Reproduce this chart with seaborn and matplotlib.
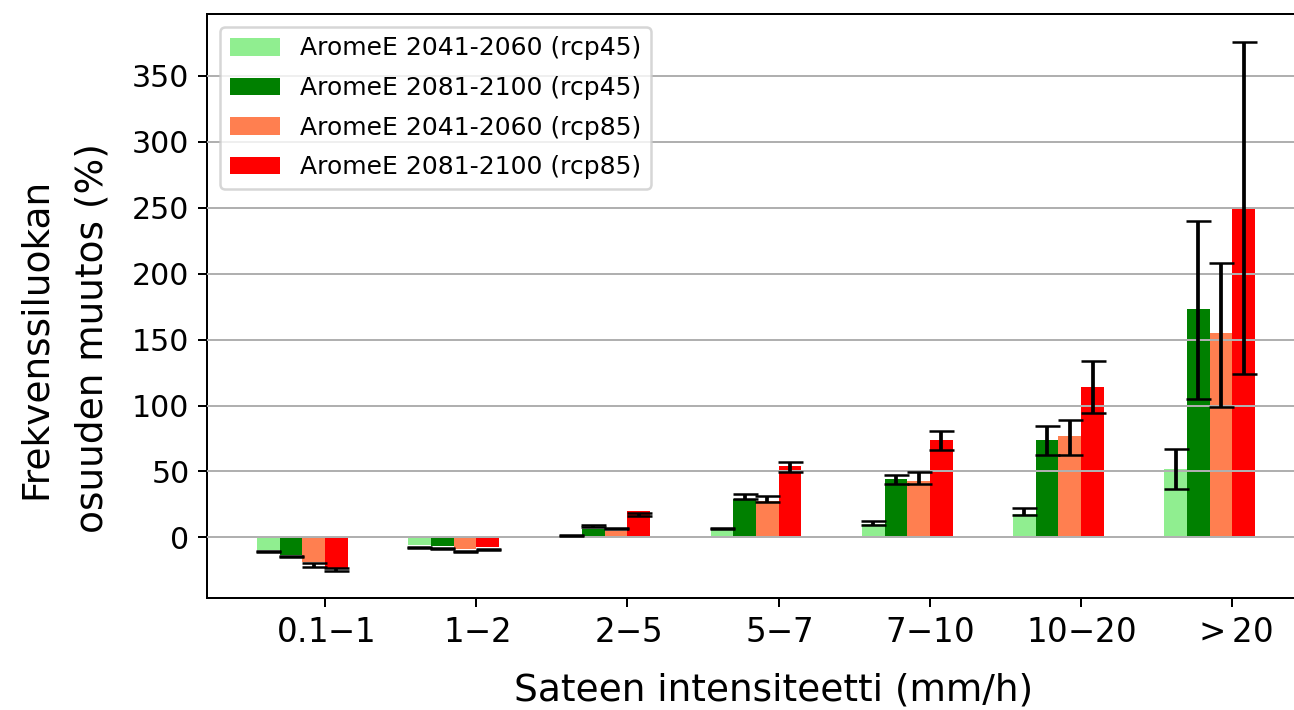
import numpy as np
import pandas as pd
import matplotlib
matplotlib.use("Agg")
import matplotlib.pyplot as plt
import seaborn as sns

# categories (minus / ">" set through mathtext like the original)
categories = ['0.1-1', '1-2', '2-5', '5-7', '7-10', '10-20', '>20']
tick_labels = ['0.1$-$1', '1$-$2', '2$-$5', '5$-$7', '7$-$10', '10$-$20', '$>$20']

series = ['AromeE 2041-2060 (rcp45)', 'AromeE 2081-2100 (rcp45)',
          'AromeE 2041-2060 (rcp85)', 'AromeE 2081-2100 (rcp85)']
colors = ['lightgreen', 'green', 'coral', 'red']

# bar values (%) per series
rcp45_2041 = [-9.6, -5.8, 0.5, 5.8, 10.5, 18.0, 52.0]
rcp45_2081 = [-13.6, -6.8, 6.3, 29.0, 44.5, 74.0, 173.0]
rcp85_2041 = [-19.0, -8.9, 5.0, 27.5, 43.0, 77.0, 155.0]
rcp85_2081 = [-23.5, -7.0, 20.0, 54.5, 74.0, 114.0, 249.5]

# error ranges (low / high) per series
rcp45_2041_low = [-11.3, -7.8, 1.3, 6.6, 9.5, 16.7, 37.0]
rcp45_2041_high = [-10.5, -7.0, 2.1, 7.4, 12.4, 22.3, 67.0]
rcp45_2081_low = [-14.8, -8.6, 8.0, 29.0, 40.2, 62.3, 105.0]
rcp45_2081_high = [-14.0, -7.8, 9.0, 33.0, 47.0, 84.3, 240.0]
rcp85_2041_low = [-22.5, -11.2, 6.6, 27.2, 40.2, 62.3, 99.0]
rcp85_2041_high = [-19.7, -10.4, 7.4, 31.0, 49.6, 88.8, 208.0]
rcp85_2081_low = [-25.8, -9.3, 16.3, 49.8, 66.6, 94.0, 124.0]
rcp85_2081_high = [-23.2, -8.5, 18.4, 56.8, 80.5, 134.0, 376.0]

values = [rcp45_2041, rcp45_2081, rcp85_2041, rcp85_2081]
lows = [rcp45_2041_low, rcp45_2081_low, rcp85_2041_low, rcp85_2081_low]
highs = [rcp45_2041_high, rcp45_2081_high, rcp85_2041_high, rcp85_2081_high]

df = pd.DataFrame({
    'category': categories * len(series),
    'series': np.repeat(series, len(categories)),
    'value': np.concatenate(values),
})

fig = plt.figure(figsize=(1294 / 180, 710 / 180), dpi=180)
ax = fig.add_axes([207 / 1294, 112 / 710, 1098 / 1294, 584 / 710])

sns.barplot(data=df, x='category', y='value', hue='series',
            order=categories, hue_order=series, palette=colors,
            width=0.6, saturation=1, errorbar=None, ax=ax)

# error bars from low/high ranges, at the bar centres
bar_groups = list(ax.containers)
for j, cont in enumerate(bar_groups):
    xs = sorted(b.get_x() + b.get_width() / 2 for b in cont)
    lo = np.array(lows[j])
    hi = np.array(highs[j])
    ax.errorbar(xs, (lo + hi) / 2, yerr=(hi - lo) / 2, fmt='none',
                ecolor='black', capsize=5, zorder=3)

ax.set_xticks(np.arange(len(categories)) + 0.15)
ax.set_xticklabels(tick_labels, fontsize=13)
ax.set_xlim(-0.63, 6.63)
ax.set_ylim(-46, 397)
ax.set_yticks(np.arange(0, 351, 50))
ax.tick_params(axis='y', labelsize=12)

ax.set_axisbelow(False)
ax.yaxis.grid(True)
ax.xaxis.grid(False)

ax.set_xlabel('Sateen intensiteetti (mm/h)', fontsize=15)
ax.set_ylabel('Frekvenssiluokan\nosuuden muutos (%)', fontsize=15, linespacing=1.75)
ax.xaxis.set_label_coords(0.516, -0.127)
ax.yaxis.set_label_coords(-0.088, 0.445)
ax.xaxis.label.set_va('top')

sns.move_legend(ax, 'upper left', title=None, labelspacing=0.62)

fig.savefig('out.png', dpi=180)
